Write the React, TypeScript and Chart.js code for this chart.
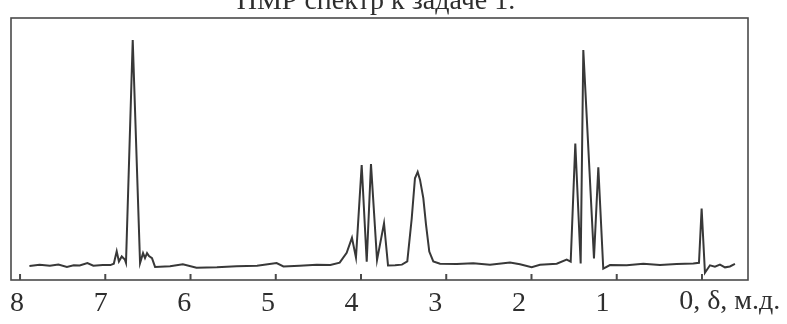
import React, { useEffect, useRef } from "react";
import { Chart, registerables } from "chart.js";

Chart.register(...registerables);

// Chemical shifts (ppm) and relative intensities, left to right
const baselineLeftPpm = [7.89, 7.77, 7.65, 7.55, 7.45, 7.37, 7.3, 7.21, 7.14, 7.03, 6.94];
const baselineLeftInt = [0, 0.5, 0.1, 0.6, -0.4, 0.3, 0.2, 1.3, 0.1, 0.4, 0.4];

const aromaticPpm = [6.9, 6.866, 6.84, 6.807, 6.77, 6.757, 6.678, 6.592, 6.557, 6.534, 6.51, 6.487, 6.452, 6.416];
const aromaticInt = [1.0, 6.5, 2.0, 4.2, 2.8, 1.4, 100, 1.3, 5.7, 3.5, 5.7, 4.4, 3.5, -0.4];

const baselineMidPpm = [6.24, 6.09, 5.93, 5.69, 5.46, 5.22, 4.99, 4.91, 4.72, 4.52, 4.36, 4.25];
const baselineMidInt = [-0.1, 0.8, -0.8, -0.6, -0.1, 0.1, 1.3, -0.2, 0.1, 0.5, 0.4, 1.5];

const quartetPpm = [4.168, 4.106, 4.059, 3.992, 3.933, 3.883, 3.812, 3.73, 3.683, 3.6, 3.52];
const quartetInt = [5.8, 12.5, 3.7, 44.7, 1.9, 45.1, 2.6, 18.9, 0.2, 0.3, 0.6];

const broadPpm = [3.457, 3.405, 3.367, 3.335, 3.308, 3.269, 3.237, 3.199, 3.152, 3.073];
const broadInt = [2.0, 21, 38.8, 41.6, 38.2, 30, 18.2, 6.4, 2.0, 1.0];

const baselineRightPpm = [2.877, 2.683, 2.487, 2.252, 2.135, 1.998, 1.9, 1.704, 1.587];
const baselineRightInt = [0.9, 1.2, 0.6, 1.5, 0.8, -0.5, 0.5, 1.0, 2.8];

const tripletPpm = [1.54, 1.486, 1.423, 1.392, 1.267, 1.216, 1.158, 1.079];
const tripletInt = [1.9, 54.2, 1.1, 95.5, 3.3, 43.7, -1.2, 0.4];

const tmsPpm = [0.883, 0.688, 0.493, 0.297, 0.102, 0.035, 0.004, -0.035, -0.094, -0.152, -0.211, -0.27, -0.328, -0.387];
const tmsInt = [0.3, 1.0, 0.4, 0.9, 1.1, 1.4, 25.4, -3.0, 0.3, -0.3, 0.6, -0.6, -0.2, 0.9];

const tickValues = [8, 7, 6, 5, 4, 3, 2, 1, 0];
const tickLabels = ["8", "7", "6", "5", "4", "3", "2", "1", "0"];
const unitSuffix = ", δ, м.д.";
const titleText = "ПМР спектр к задаче 1.";

const X_MIN = -0.54;
const X_MAX = 8.106;
const Y_MIN = -6.2;
const Y_MAX = 109.7;

const segments: [number[], number[]][] = [
  [baselineLeftPpm, baselineLeftInt],
  [aromaticPpm, aromaticInt],
  [baselineMidPpm, baselineMidInt],
  [quartetPpm, quartetInt],
  [broadPpm, broadInt],
  [baselineRightPpm, baselineRightInt],
  [tripletPpm, tripletInt],
  [tmsPpm, tmsInt],
];

const FONT = '"Liberation Serif", "DejaVu Serif", serif';

const framePlugin = {
  id: "nmrFrame",
  afterDraw(chart: any) {
    const { ctx, chartArea } = chart;
    const xs = chart.scales.x;
    const { left, right, top, bottom } = chartArea;
    ctx.save();
    // frame
    ctx.strokeStyle = "#4a4a4a";
    ctx.lineWidth = 1.6;
    ctx.strokeRect(left, top, right - left, bottom - top);
    // inward ticks
    ctx.lineWidth = 2;
    tickValues.forEach((v) => {
      const x = xs.getPixelForValue(v);
      ctx.beginPath();
      ctx.moveTo(x, bottom);
      ctx.lineTo(x, bottom - 6);
      ctx.stroke();
    });
    // tick labels (slightly left of the tick marks, as in the scan)
    ctx.fillStyle = "#2e2e2e";
    ctx.font = `28px ${FONT}`;
    ctx.textBaseline = "alphabetic";
    tickValues.forEach((v, i) => {
      const x = xs.getPixelForValue(v) - 3 - 1.6 * (8 - v);
      const label = tickLabels[i];
      if (v === 0) {
        const w = ctx.measureText(label).width;
        ctx.textAlign = "left";
        ctx.fillText(label + unitSuffix, x - w / 2, 309);
      } else {
        ctx.textAlign = "center";
        ctx.fillText(label, x, 311);
      }
    });
    // title (top cut off as in the scan)
    ctx.textAlign = "center";
    ctx.font = `28px ${FONT}`;
    ctx.fillText(titleText, 376, 9);
    ctx.restore();
  },
};

export default function App() {
  const ref = useRef<HTMLCanvasElement | null>(null);

  useEffect(() => {
    if (!ref.current) return;
    const points: { x: number; y: number }[] = [];
    segments.forEach(([xs, ys]) => {
      xs.forEach((x, i) => points.push({ x, y: ys[i] }));
    });
    const chart = new Chart(ref.current, {
      type: "line",
      data: {
        datasets: [
          {
            data: points,
            borderColor: "#383838",
            borderWidth: 2,
            pointRadius: 0,
            tension: 0,
            fill: false,
          },
        ],
      },
      options: {
        animation: false,
        responsive: false,
        maintainAspectRatio: false,
        layout: { padding: { left: 11, right: 39, top: 18, bottom: 44 } },
        plugins: {
          legend: { display: false },
          title: { display: false },
          tooltip: { enabled: false },
        },
        scales: {
          x: { type: "linear", reverse: true, min: X_MIN, max: X_MAX, display: false },
          y: { type: "linear", min: Y_MIN, max: Y_MAX, display: false },
        },
      },
      plugins: [framePlugin],
    });
    return () => chart.destroy();
  }, []);

  return (
    <div style={{ position: "fixed", left: 0, top: 0, width: 787, height: 324, background: "#fff" }}>
      <canvas ref={ref} width={787} height={324} style={{ display: "block" }} />
    </div>
  );
}
